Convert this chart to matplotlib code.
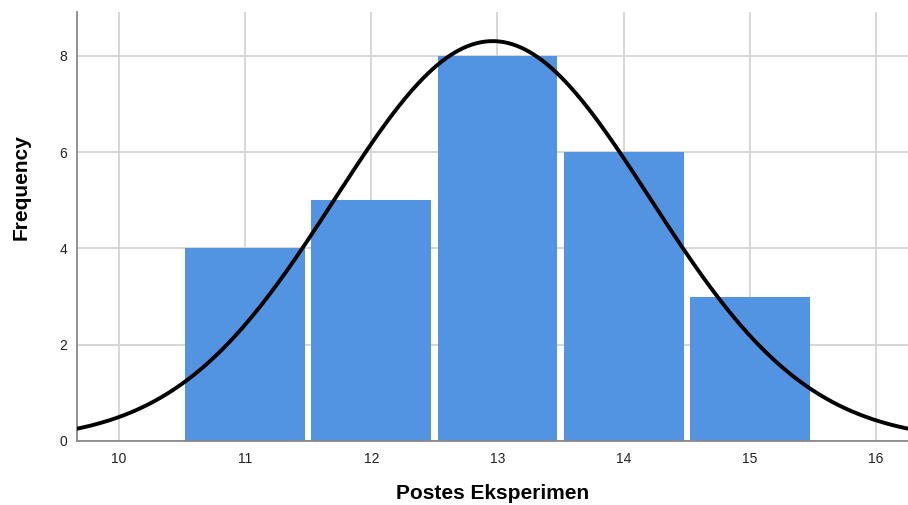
import numpy as np
import matplotlib
matplotlib.use("Agg")
import matplotlib.pyplot as plt

values = [11, 12, 13, 14, 15]
freqs = [4, 5, 8, 6, 3]
xticks = [10, 11, 12, 13, 14, 15, 16]
yticks = [0, 2, 4, 6, 8]

plt.rcParams['font.family'] = ['Liberation Sans', 'DejaVu Sans']

fig = plt.figure(figsize=(9.08, 5.05), dpi=100)
ax = fig.add_axes([77/908, 1-441/505, 1-77/908, (441-12)/505])

ax.set_axisbelow(True)
ax.grid(True, color='#d4d4d4', linewidth=1.3)
ax.bar(values, freqs, width=0.95, color='#5294e2', linewidth=0, zorder=2)

v = np.array(values, float)
f = np.array(freqs, float)
n = f.sum()
mean = (v * f).sum() / n
sd = np.sqrt((f * (v - mean) ** 2).sum() / (n - 1))
xs = np.linspace(9.5, 16.5, 400)
ys = n * 1.0 / (sd * np.sqrt(2 * np.pi)) * np.exp(-0.5 * ((xs - mean) / sd) ** 2)
ax.plot(xs, ys, color='black', linewidth=2.8, zorder=3)

ax.set_xlim(9.667, 16.254)
ax.set_ylim(0, 8.914)
ax.set_xticks(xticks)
ax.set_yticks(yticks)
ax.tick_params(length=0, labelsize=10, colors='#222222', pad=8)
ax.tick_params(axis='y', pad=7)
for s in ['top', 'right']:
    ax.spines[s].set_visible(False)
for s in ['left', 'bottom']:
    ax.spines[s].set_color('#888888')
    ax.spines[s].set_linewidth(1.3)

ax.set_xlabel('Postes Eksperimen', fontsize=15, fontweight='bold', labelpad=13)
ax.set_ylabel('Frequency', fontsize=15, fontweight='bold', labelpad=20)
ax.yaxis.set_label_coords(-0.056, 0.592)

fig.savefig('out.png', dpi=100)
